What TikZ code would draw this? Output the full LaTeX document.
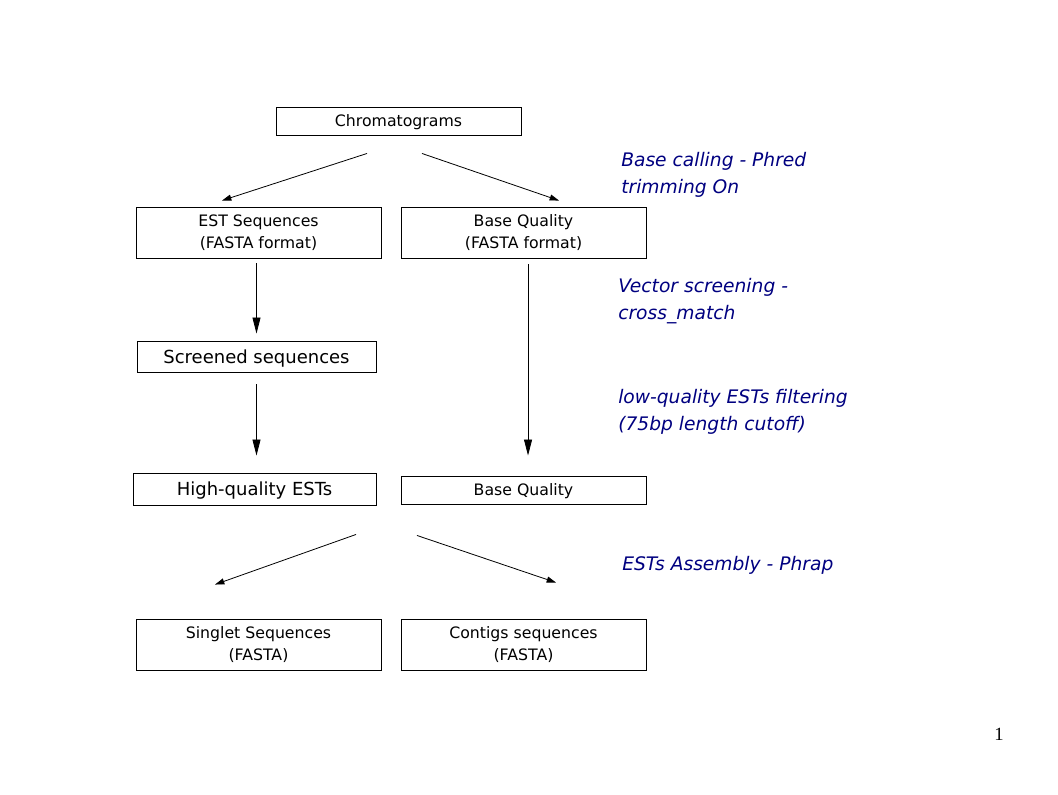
\documentclass[tikz,border=0pt]{standalone}
\usepackage{fontspec}
\setmainfont{DejaVu Sans}[ItalicFont={DejaVu Sans Oblique}]
\newfontfamily\pagefont{Liberation Serif}
\usetikzlibrary{arrows.meta,calc}
\definecolor{notecol}{RGB}{0,0,128}

\begin{document}
\begin{tikzpicture}[x=0.75pt, y=-0.75pt, >={Triangle[length=7pt,width=4.5pt]},
	box/.style={draw, line width=0.7pt, minimum width=183.75pt, inner sep=0pt, align=center, font=\fontsize{11.8}{16.5}\selectfont},
	onebox/.style={box, text depth=0pt},
	bigbox/.style={onebox, font=\fontsize{13.5}{16}\selectfont},
	note/.style={anchor=west, inner sep=0pt, align=left, text=notecol, font=\fontsize{14}{20}\selectfont\itshape},
	bigtip/.style={-{Triangle[length=12pt,width=6pt]}, line width=0.6pt}]
	\useasboundingbox (0,0) rectangle (1058,794);
	% boxes
	\node[onebox, minimum height=21pt] (chrom) at (398.5,121) {Chromatograms};
	\node[box, minimum height=38.25pt] (est) at (258.5,232.5) {EST Sequences\\(FASTA format)};
	\node[box, minimum height=38.25pt] (bq1) at (523.5,232.5) {Base Quality\\(FASTA format)};
	\node[bigbox, minimum width=179.25pt, minimum height=23.25pt] (scr) at (256.5,356.5) {Screened sequences};
	\node[bigbox, minimum width=182.25pt, minimum height=24pt] (hq) at (254.5,489) {High-quality ESTs};
	\node[onebox, minimum height=21pt] (bq2) at (523.5,490) {Base Quality};
	\node[box, minimum height=38.25pt] (sing) at (258.5,644.5) {Singlet Sequences\\(FASTA)};
	\node[box, minimum height=38.25pt] (cont) at (523.5,644.5) {Contigs sequences\\(FASTA)};
	% notes
	\node[note] (n1) at (621,175) {Base calling - Phred\\trimming On};
	\node[note] (n2) at (618,301) {Vector screening -\\cross\_match};
	\node[note] (n3) at (618,412) {low-quality ESTs filtering\\(75bp length cutoff)};
	\node[note] (n4) at (622,565) {ESTs Assembly - Phrap};
	\node[font=\pagefont\fontsize{14}{16}\selectfont] (page) at (999,734) {1};
	% arrows
	\draw[->, line width=0.6pt] ($(chrom.south)+(-31.5,18)$) -- ($(est.north)+(-36.5,-6)$);
	\draw[->, line width=0.6pt] ($(chrom.south)+(23.5,18)$) -- ($(bq1.north)+(35.5,-6)$);
	\draw[bigtip, shorten <=3.75pt, shorten >=5.25pt] (scr.north |- est.south) -- (scr.north);
	\draw[bigtip, shorten <=9pt, shorten >=12.75pt] (scr.south) -- (scr.south |- hq.north);
	\draw[bigtip, shorten <=4.5pt, shorten >=15pt] ([xshift=3.4pt]bq1.south) -- ([xshift=3.4pt]bq1.south |- bq2.north);
	\draw[->, line width=0.6pt] ($(hq.south)+(101.5,29)$) -- ($(sing.north)+(-43.5,-34)$);
	\draw[->, line width=0.6pt] ($(hq.south)+(162.5,30)$) -- ($(cont.north)+(32.5,-36)$);
	
\end{tikzpicture}
\end{document}
